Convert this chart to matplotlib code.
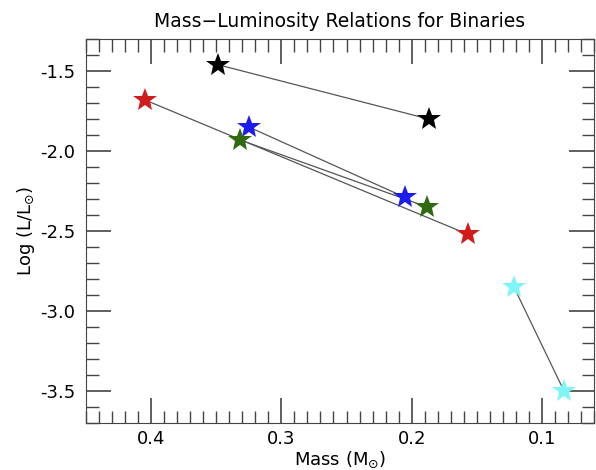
import matplotlib

matplotlib.use("Agg")
import matplotlib.pyplot as plt
from matplotlib.ticker import MultipleLocator, FuncFormatter

# binary pairs: (mass primary, mass secondary), (log L primary, log L secondary)
pair_names = ["black", "red", "blue", "green", "cyan"]
pair_mass = [
    (0.349, 0.187),
    (0.405, 0.157),
    (0.325, 0.205),
    (0.332, 0.188),
    (0.1215, 0.083),
]
pair_logl = [
    (-1.46, -1.80),
    (-1.68, -2.52),
    (-1.85, -2.29),
    (-1.93, -2.35),
    (-2.85, -3.50),
]
pair_colors = ["#000000", "#d01c1c", "#1c1cf0", "#306a10", "#7ff5f8"]

fig = plt.figure(figsize=(5.96, 4.70), dpi=100)
ax = fig.add_axes([0.1443, 0.1, 0.8523, 0.817])

for name, m, l, c in zip(pair_names, pair_mass, pair_logl, pair_colors):
    ax.plot(m, l, color="#555555", linewidth=0.9, zorder=1)
    ax.plot(m, l, linestyle="none", marker="*", markersize=18, color=c,
            markeredgewidth=0, zorder=2)

ax.set_xlim(0.45, 0.06)
ax.set_ylim(-3.7, -1.3)
ax.xaxis.set_major_locator(MultipleLocator(0.1))
ax.xaxis.set_minor_locator(MultipleLocator(0.01))
ax.yaxis.set_major_locator(MultipleLocator(0.5))
ax.yaxis.set_minor_locator(MultipleLocator(0.1))
ax.xaxis.set_major_formatter(FuncFormatter(lambda v, p: f"{v:.1f}"))
ax.yaxis.set_major_formatter(FuncFormatter(lambda v, p: f"{v:.1f}"))

for spine in ax.spines.values():
    spine.set_color("#444444")
ax.tick_params(which="both", direction="in", top=True, right=True, color="#444444",
               labelsize=13)
ax.tick_params(which="major", length=18, width=1.2, pad=8)
ax.tick_params(which="minor", length=9, width=1.0)
ax.tick_params(axis="x", which="major", pad=5)

ax.set_xlabel("Mass (M$_{\\odot}$)", fontsize=13, labelpad=1)
ax.set_ylabel("Log (L/L$_{\\odot}$)", fontsize=13, labelpad=2)
ax.set_title("Mass\u2212Luminosity Relations for Binaries", fontsize=13.5, pad=9)

fig.savefig("out.png", dpi=100)
